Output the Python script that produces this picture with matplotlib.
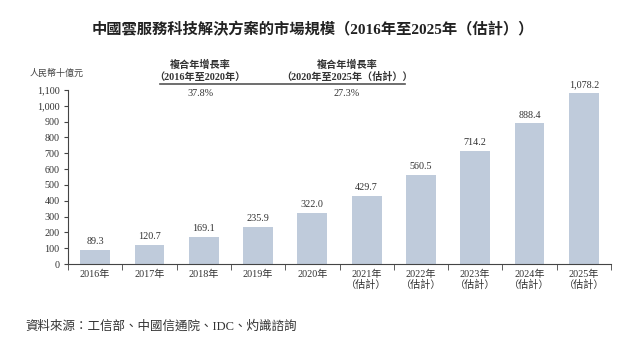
import numpy as np
import matplotlib.pyplot as plt

plt.rcParams['font.family'] = ['Liberation Serif', 'Noto Sans CJK TC']

years = ["2016年", "2017年", "2018年", "2019年", "2020年",
         "2021年\n（估計）", "2022年\n（估計）", "2023年\n（估計）",
         "2024年\n（估計）", "2025年\n（估計）"]
values = [89.3, 120.7, 169.1, 235.9, 322.0, 429.7, 560.5, 714.2, 888.4, 1078.2]
yticks = np.arange(0, 1101, 100)
cagr_titles = ["複合年增長率\n（2016年至2020年）", "複合年增長率\n（2020年至2025年（估計））"]
cagr_values = ["37.8%", "27.3%"]

fig = plt.figure(figsize=(6.25, 3.53), dpi=100)
ax = fig.add_axes([0.1088, 0.252, 0.8688, 0.493])

x = np.arange(len(values))
ax.bar(x, values, width=0.55, color="#bfcbdb")
for xi, v in zip(x, values):
    ax.text(xi, v + 25, f"{v:,.1f}", ha="center", va="bottom", fontsize=7.3, color="#333333")

ax.set_xlim(-0.5, len(values) - 0.5)
ax.set_ylim(0, 1100)
ax.set_yticks(yticks)
ax.set_yticklabels([f"{t:,}" for t in yticks], fontsize=7.3, color="#333333")
ax.set_xticks(x)
ax.set_xticklabels(years, fontsize=7.3, color="#333333", linespacing=1.1)
ax.tick_params(axis="x", length=0, pad=4)
ax.set_xticks(np.arange(-0.5, len(values)), minor=True)
ax.tick_params(axis="x", which="minor", length=4, direction="out", color="#444444")
ax.tick_params(axis="y", length=3, direction="out", color="#444444", pad=3)
for s in ["top", "right"]:
    ax.spines[s].set_visible(False)
for s in ["left", "bottom"]:
    ax.spines[s].set_color("#444444")
    ax.spines[s].set_linewidth(0.8)

fig.text(0.5, 0.915, "中國雲服務科技解決方案的市場規模（2016年至2025年（估計））",
         ha="center", va="center", fontsize=11, fontweight="bold", color="#222222")
fig.text(0.048, 0.793, "人民幣十億元", ha="left", va="center", fontsize=6.5, color="#444444")

# CAGR annotation
cx = [200 / 625, 347 / 625]
for c, t, p in zip(cx, cagr_titles, cagr_values):
    fig.text(c, 1 - 71 / 353, t, ha="center", va="center", fontsize=7.3,
             fontweight="bold", color="#333333", linespacing=1.25)
    fig.text(c, 1 - 94 / 353, p, ha="center", va="center", fontsize=7.3, color="#333333")
fig.add_artist(plt.Line2D([160 / 625, 405 / 625], [1 - 84 / 353, 1 - 84 / 353],
                          color="#555555", linewidth=1.2))

fig.text(0.04, 1 - 327 / 353, "資料來源：工信部、中國信通院、IDC、灼識諮詢",
         ha="left", va="center", fontsize=9, color="#333333")

fig.savefig("out.png", dpi=100)
